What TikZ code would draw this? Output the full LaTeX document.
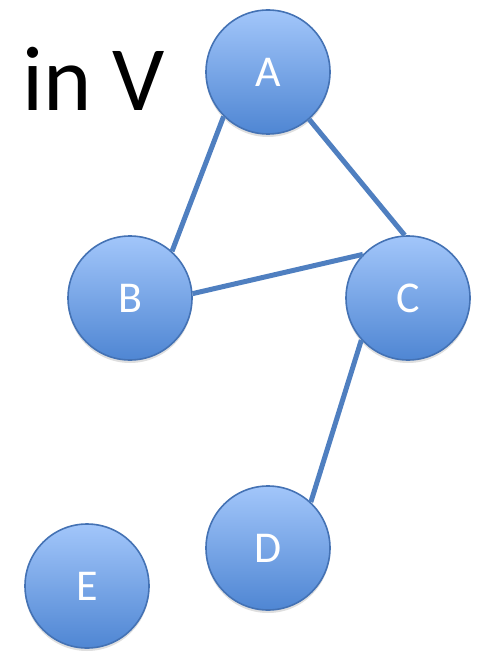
\documentclass[tikz,border=0pt]{standalone}
\usepackage{fontspec}
\setmainfont{Carlito}
\usetikzlibrary{shadows}
\begin{document}
\begin{tikzpicture}[x=1pt,y=-1pt,
  vtx/.style={circle,draw=vborder,line width=1.6pt,minimum size=124pt,inner sep=0pt,
    top color=vtop,bottom color=vbot,text=white,font=\fontsize{44}{44}\selectfont,
    drop shadow={shadow xshift=0pt,shadow yshift=-3pt,opacity=0.25}},
  edge/.style={draw=vedge,line width=5pt}]
\definecolor{vtop}{HTML}{A2C6FA}
\definecolor{vbot}{HTML}{4F86D3}
\definecolor{vborder}{HTML}{4472B4}
\definecolor{vedge}{HTML}{4F7FC0}
\useasboundingbox (0,0) rectangle (485,652);
\node[anchor=base west,inner sep=0pt,font=\fontsize{92}{92}\selectfont] (t) at (22,111) {in V};
\node[vtx] (A) at (268,72) {A};
\node[vtx] (B) at (130,298) {B};
\node[vtx] (C) at (408,298) {C};
\node[vtx] (D) at (268,548) {D};
\node[vtx] (E) at (87,586) {E};
\draw[edge] (A.225) -- (B.48);
\draw[edge] (A.311) -- (C.93);
\draw[edge] (B.4) -- (C.136);
\draw[edge] (C.222) -- (D.47);
\end{tikzpicture}
\end{document}
